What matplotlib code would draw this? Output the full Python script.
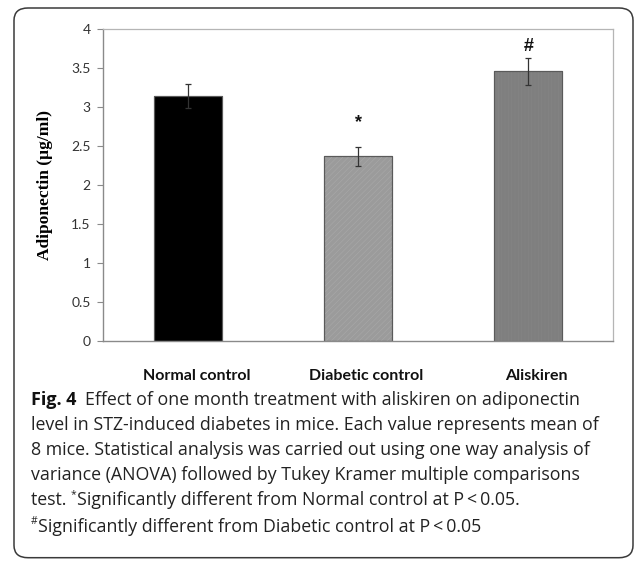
import matplotlib
matplotlib.use("Agg")
import matplotlib.pyplot as plt
from matplotlib.patches import FancyBboxPatch
import matplotlib.transforms as mtrans
import numpy as np

# data
groups = ["Normal control", "Diabetic control", "Aliskiren"]
means = [3.14, 2.37, 3.46]
sems = [0.155, 0.12, 0.17]
marks = ["", "*", "#"]
mark_y = [0, 2.80, 3.78]
bar_colors = ["#000000", "#9b9b9b", "#7f7f7f"]
yticks = [0, 0.5, 1, 1.5, 2, 2.5, 3, 3.5, 4]
ytick_labels = ["0", "0.5", "1", "1.5", "2", "2.5", "3", "3.5", "4"]

caption = [
    "level in STZ-induced diabetes in mice. Each value represents mean of",
    "8 mice. Statistical analysis was carried out using one way analysis of",
    "variance (ANOVA) followed by Tukey Kramer multiple comparisons",
]

W, H = 636, 563
fig = plt.figure(figsize=(W / 100, H / 100), dpi=100)

# rounded frame around figure + caption
box = FancyBboxPatch((14 / W, 1 - 557.7 / H), (633 - 14) / W, (557.7 - 8) / H,
                     boxstyle="round,pad=0,rounding_size=0.022",
                     transform=fig.transFigure, fill=False,
                     edgecolor="#3a3a3a", linewidth=1.1)
fig.add_artist(box)

ax = fig.add_axes([103.3 / W, 1 - 341.3 / H, 510 / W, 312 / H])
x = np.arange(len(groups))
ax.bar(x, means, width=0.4, color=bar_colors, edgecolor="#5a5a5a", linewidth=0.8, zorder=2)

# faint texture on the grey bars like the original
plt.rcParams["hatch.linewidth"] = 0.4
ax.bar(x[1], means[1], width=0.4, fill=False, hatch="//////", edgecolor="#a9a9a9", linewidth=0, zorder=2.1)
ax.bar(x[2], means[2], width=0.4, fill=False, hatch="|||||", edgecolor="#868686", linewidth=0, zorder=2.1)
ax.bar(x, means, width=0.4, fill=False, edgecolor="#5a5a5a", linewidth=0.8, zorder=2.2)

ax.errorbar(x, means, yerr=sems, fmt="none", ecolor="#333333", elinewidth=0.9,
            capsize=2, capthick=0.9, zorder=3)

for xi, m, my in zip(x, marks, mark_y):
    if m:
        ax.text(xi, my, m, ha="center", va="center", fontsize=13, fontweight="bold",
                family="Liberation Sans", color="#111111")

ax.set_xlim(-0.5, 2.5)
ax.set_ylim(0, 4)
ax.set_yticks(yticks)
ax.set_yticklabels(ytick_labels, family="Lato", fontsize=10, color="#333333")
ax.set_xticks(x)
ax.set_xticklabels(groups, family="Lato", fontweight="bold", fontsize=11.5, color="#111111")
ax.tick_params(axis="x", length=0, pad=20)
ax.tick_params(axis="y", length=4, width=0.8, color="#8a8a8a", pad=5)
shift = mtrans.ScaledTranslation(8 / 100, 0, fig.dpi_scale_trans)
for lab in ax.get_xticklabels():
    lab.set_transform(lab.get_transform() + shift)

for s in ["left", "bottom"]:
    ax.spines[s].set_color("#8a8a8a")
    ax.spines[s].set_linewidth(1.0)
for s in ["top", "right"]:
    ax.spines[s].set_color("#b5b5b5")
    ax.spines[s].set_linewidth(0.9)

# y axis title placed in figure coords
fig.text(45 / W, 1 - 185.3 / H, "Adiponectin (µg/ml)", family="Liberation Serif",
         fontweight="bold", fontsize=12.5, rotation=90, ha="center", va="center")

# caption
cap_font = dict(family="Open Sans", fontsize=12.8, color="#222222")
line_y = [400, 425, 450, 475, 500, 525]
x0 = 31 / W
t = fig.text(x0, 1 - line_y[0] / H, "Fig. 4", family="Open Sans", fontweight="bold",
             fontsize=13, color="#111111", va="center")
ax.annotate("Effect of one month treatment with aliskiren on adiponectin",
            xy=(1, 0.5), xycoords=t, xytext=(6, 0), textcoords="offset points",
            va="center", **cap_font)
for yy, txt in zip(line_y[1:4], caption):
    fig.text(x0, 1 - yy / H, txt, va="center", **cap_font)

t5 = fig.text(x0, 1 - line_y[4] / H, "test. ", va="center", **cap_font)
s5 = ax.annotate("*", xy=(1, 0.5), xycoords=t5, xytext=(0, 4), textcoords="offset points",
                 va="center", family="Open Sans", fontsize=7.5, color="#222222")
ax.annotate("Significantly different from Normal control at P\u2009<\u20090.05.",
            xy=(1, 0.5), xycoords=s5, xytext=(0, -4), textcoords="offset points",
            va="center", **cap_font)
s6 = fig.text(x0, 1 - (line_y[5] - 4) / H, "#", va="center", family="Open Sans",
              fontsize=7.5, color="#222222")
ax.annotate("Significantly different from Diabetic control at P\u2009<\u20090.05",
            xy=(1, 0.5), xycoords=s6, xytext=(0, -4), textcoords="offset points",
            va="center", **cap_font)

fig.savefig("out.png", dpi=100)
